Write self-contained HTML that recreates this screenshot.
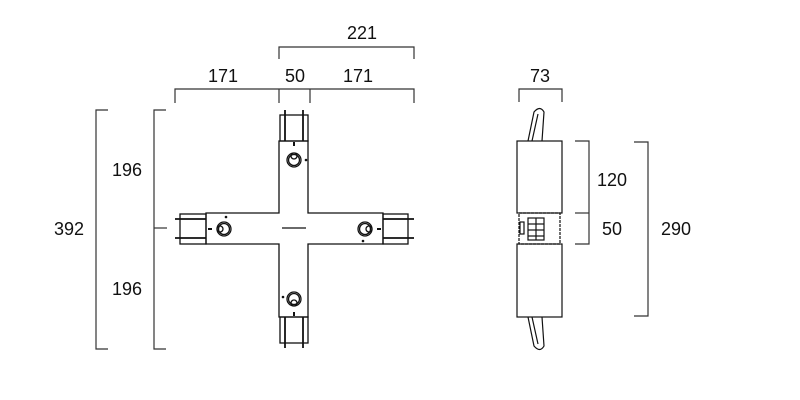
<!DOCTYPE html>
<html><head><meta charset="utf-8"><style>
html,body{margin:0;padding:0;background:#fff;}
svg{display:block}
text{font-family:"Liberation Sans",Arial,sans-serif;font-size:18px;fill:#111;}
</style></head><body>
<svg width="800" height="400" viewBox="0 0 800 400" xmlns="http://www.w3.org/2000/svg">
<g fill="none" stroke="#333" stroke-width="1.2">
<polyline points="279,59 279,47 414,47 414,59"/>
<polyline points="175,103 175,89 414,89 414,103"/>
<line x1="279" y1="89" x2="279" y2="103"/>
<line x1="310" y1="89" x2="310" y2="103"/>
<polyline points="108,110 96,110 96,349 108,349"/>
<polyline points="166,110 154,110 154,349 166,349"/>
<line x1="154" y1="228" x2="167" y2="228"/>
<polyline points="519,102 519,89 562,89 562,102"/>
<polyline points="575,141 589,141 589,244 575,244"/>
<line x1="575" y1="213" x2="589" y2="213"/>
<polyline points="634,142 648,142 648,316 634,316"/>
</g>
<text x="362" y="39" text-anchor="middle">221</text>
<text x="223" y="82" text-anchor="middle">171</text>
<text x="295" y="82" text-anchor="middle">50</text>
<text x="358" y="82" text-anchor="middle">171</text>
<text x="127" y="176" text-anchor="middle">196</text>
<text x="127" y="295" text-anchor="middle">196</text>
<text x="69" y="235" text-anchor="middle">392</text>
<text x="540" y="82" text-anchor="middle">73</text>
<text x="612" y="186" text-anchor="middle">120</text>
<text x="612" y="235" text-anchor="middle">50</text>
<text x="676" y="235" text-anchor="middle">290</text>

<g fill="none" stroke="#111" stroke-width="1.3">
<rect x="280" y="115" width="28" height="26"/>
<rect x="280" y="317" width="28" height="26"/>
<rect x="180" y="214" width="26" height="30"/>
<rect x="383" y="214" width="25" height="30"/>
<line x1="285" y1="110" x2="285" y2="141" stroke-width="1.8"/>
<line x1="303" y1="110" x2="303" y2="141" stroke-width="1.8"/>
<line x1="285" y1="317" x2="285" y2="348" stroke-width="1.8"/>
<line x1="303" y1="317" x2="303" y2="348" stroke-width="1.8"/>
<line x1="175" y1="219" x2="206" y2="219" stroke-width="1.8"/>
<line x1="175" y1="238" x2="206" y2="238" stroke-width="1.8"/>
<line x1="383" y1="219" x2="414" y2="219" stroke-width="1.8"/>
<line x1="383" y1="238" x2="414" y2="238" stroke-width="1.8"/>
<path d="M279,141 H308 V213 H383 V244 H308 V317 H279 V244 H206 V213 H279 Z"/>
<line x1="282" y1="228" x2="306" y2="228"/>
<circle cx="294" cy="160" r="7"/><circle cx="294" cy="160" r="5.5"/><circle cx="294" cy="156" r="3"/>
<circle cx="294" cy="299" r="7"/><circle cx="294" cy="299" r="5.5"/><circle cx="294" cy="303" r="3"/>
<circle cx="224" cy="229" r="7"/><circle cx="224" cy="229" r="5.5"/><circle cx="220" cy="229" r="3"/>
<circle cx="365" cy="229" r="7"/><circle cx="365" cy="229" r="5.5"/><circle cx="369" cy="229" r="3"/>
<line x1="294" y1="142" x2="294" y2="146" stroke-width="2"/>
<line x1="294" y1="312" x2="294" y2="316" stroke-width="2"/>
<line x1="208" y1="229" x2="212" y2="229" stroke-width="2"/>
<line x1="377" y1="229" x2="381" y2="229" stroke-width="2"/>
</g>
<g fill="#111">
<circle cx="306" cy="160" r="1.3"/><circle cx="283" cy="297" r="1.3"/>
<circle cx="226" cy="217" r="1.3"/><circle cx="363" cy="241" r="1.3"/>
</g>

<g fill="none" stroke="#111" stroke-width="1.2">
<rect x="517" y="141" width="45" height="72"/>
<rect x="517" y="244" width="45" height="73"/>
<rect x="519" y="213" width="41" height="31" stroke-dasharray="3,1"/>
<path d="M528,141 L534,112 Q540,105 544,112 L542,141"/>
<path d="M532,141 L538,114"/>
<path d="M528,317 L534,346 Q540,353 544,346 L542,317"/>
<path d="M532,317 L538,344"/>
<rect x="528" y="218" width="16" height="22"/>
<line x1="528" y1="224" x2="544" y2="224"/>
<line x1="528" y1="230" x2="544" y2="230"/>
<line x1="528" y1="236" x2="544" y2="236"/>
<line x1="536" y1="218" x2="536" y2="240"/>
<rect x="520" y="222" width="4" height="12"/>
</g>
</svg>
</body></html>
